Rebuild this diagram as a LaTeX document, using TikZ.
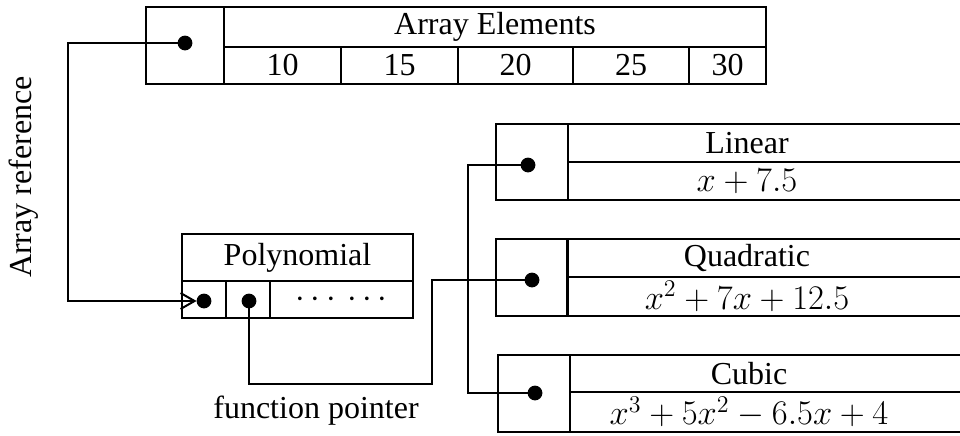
\documentclass[tikz,border=0pt]{standalone}
\usepackage{fontspec}
\setmainfont{Liberation Serif}
\usetikzlibrary{arrows.meta}
\begin{document}
\begin{tikzpicture}[x=0.5pt,y=-0.5pt,
  every node/.style={font=\fontsize{16}{19}\selectfont, inner sep=0pt, outer sep=0pt},
  wh/.style 2 args={minimum width=#1*0.5pt, minimum height=#2*0.5pt},
  cell/.style={draw, line width=1pt},
  expr/.style={font=\fontsize{17}{20}\selectfont},
  ptrdot/.style={circle, fill, minimum size=7.4pt},
  wire/.style={line width=1pt},
  ]
\useasboundingbox (0,0) rectangle (960,435);
\clip (0,0) rectangle (960,435);

% array object: reference cell, header and element cells
\node[cell, wh={78}{77}] (aptr) at (185,45.5) {};
\node[cell, wh={542}{40}] (ahead) at (495,27) {Array Elements};
\node[cell, wh={117}{37}] (e1) at (282.5,65.5) {10};
\node[cell, wh={117}{37}] (e2) at (399.5,65.5) {15};
\node[cell, wh={115}{37}] (e3) at (515.5,65.5) {20};
\node[cell, wh={116}{37}] (e4) at (631,65.5) {25};
\node[cell, wh={77}{37}] (e5) at (727.5,65.5) {30};
\node[ptrdot] (adot) at (185,43) {};

% polynomial object
\node[cell, wh={231}{47}] (phead) at (297.5,257.5) {Polynomial};
\node[cell, wh={44}{37}] (pc1) at (204,299.5) {};
\node[cell, wh={44}{37}] (pc2) at (248,299.5) {};
\node[cell, wh={143}{37}] (pc3) at (341.5,299.5) {$\cdots\,\cdots$};
\node[ptrdot] (pdot1) at (204,301) {};
\node[ptrdot] (pdot2) at (249,301) {};

% function objects
\node[cell, wh={72}{76}] (lptr) at (532,162) {};
\node[cell, wh={532}{38}] (lhead) at (834,143) {};
\node[cell, wh={532}{38}] (lrow) at (834,181) {};
\node (ltxt) at (747,143) {Linear};
\node[expr] (lexp) at (747,181) {$x+7.5$};
\node[ptrdot] (ldot) at (528,165) {};

\node[cell, wh={71}{77}] (qptr) at (531.5,277.5) {};
\node[cell, wh={533}{38}] (qhead) at (834,258) {};
\node[cell, wh={533}{39}] (qrow) at (834,296.5) {};
\node (qtxt) at (747,258) {Quadratic};
\node[expr] (qexp) at (747,296.5) {$x^2+7x+12.5$};
\node[ptrdot] (qdot) at (532,280) {};

\node[cell, wh={72}{77}] (cptr) at (534,393.5) {};
\node[cell, wh={530}{37}] (chead) at (835,373.5) {};
\node[cell, wh={530}{40}] (crow) at (835,412) {};
\node (ctxt) at (749,373.5) {Cubic};
\node[expr] (cexp) at (749,412) {$x^3+5x^2-6.5x+4$};
\node[ptrdot] (cdot) at (535,393) {};

% labels
\node[rotate=90] (arref) at (24,177) {Array reference};
\node (fptr) at (316,411) {function pointer};

% connectors
\draw[wire, -{Straight Barb[length=7pt,width=8pt,line width=1pt]}]
  (adot.center) -- (68,43) |- (pdot1.west);
\draw[wire] (pdot2.center) |- (432,384) |- (qdot.center);
\draw[wire] (ldot.center) -- (468,165) |- (cdot.center);
\end{tikzpicture}
\end{document}
